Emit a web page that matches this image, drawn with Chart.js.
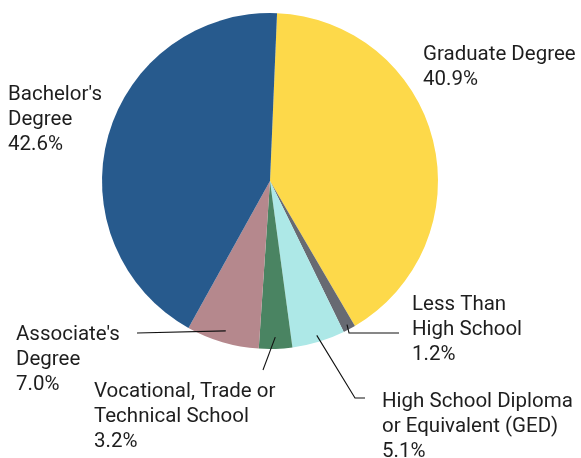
<!DOCTYPE html>
<html><head><meta charset="utf-8">
<script src="https://cdn.jsdelivr.net/npm/chart.js@4"></script>
<style>html,body{margin:0;padding:0;background:#fff}#wrap{width:581px;height:458px}</style>
</head><body><div id="wrap"><canvas id="c" width="581" height="458"></canvas></div>
<script>
const categories = ["Graduate Degree","Less Than High School","High School Diploma or Equivalent (GED)","Vocational, Trade or Technical School","Associate's Degree","Bachelor's Degree"];
const labelLines = [["Graduate Degree"],["Less Than","High School"],["High School Diploma","or Equivalent (GED)"],["Vocational, Trade or","Technical School"],["Associate's","Degree"],["Bachelor's","Degree"]];
const values = [40.9, 1.2, 5.1, 3.2, 7.0, 42.6];
const colors = ["#FDD94A","#676A72","#ADE8E7","#4A8462","#B5888D","#275A8D"];

// label layout: text left x, first line baseline y, leader points (null = no leader)
const labelPos = [
  {x:423, y:60,  leader:null},
  {x:412, y:310, leader:{frac:0.97, pts:[[349,333],[399,333]]}},
  {x:382, y:407, leader:{frac:0.96, pts:[[355,398],[365,398]]}},
  {x:94,  y:397, leader:{frac:0.93, pts:[[263,370]]}},
  {x:16,  y:340, leader:{frac:0.93, pts:[[137,333]]}},
  {x:8,   y:100, leader:null}
];

const labelPlugin = {
  id:'pieLabels',
  afterDraw(chart){
    const ctx = chart.ctx;
    const meta = chart.getDatasetMeta(0);
    ctx.save();
    meta.data.forEach((arc,i)=>{
      const p = arc.getProps(['x','y','startAngle','endAngle','outerRadius'],true);
      const L = labelPos[i];
      if(L.leader){
        const mid = (p.startAngle+p.endAngle)/2;
        const r = p.outerRadius*L.leader.frac;
        ctx.beginPath();
        ctx.strokeStyle = '#111';
        ctx.lineWidth = 1.1;
        ctx.moveTo(p.x+Math.cos(mid)*r, p.y+Math.sin(mid)*r);
        L.leader.pts.forEach(q=>ctx.lineTo(q[0],q[1]));
        ctx.stroke();
      }
      ctx.fillStyle = '#1e1e1e';
      ctx.font = '20.5px Roboto';
      ctx.textBaseline = 'alphabetic';
      ctx.textAlign = 'left';
      const lines = labelLines[i].concat([values[i].toFixed(1)+'%']);
      lines.forEach((t,k)=>ctx.fillText(t, L.x, L.y+k*25));
    });
    ctx.restore();
  }
};

new Chart(document.getElementById('c'),{
  type:'pie',
  data:{labels:categories,datasets:[{data:values,backgroundColor:colors,borderWidth:0,hoverOffset:0}]},
  options:{
    responsive:false,animation:false,events:[],
    rotation:2.4,
    layout:{padding:{left:102,right:143,top:13,bottom:109}},
    plugins:{legend:{display:false},tooltip:{enabled:false},title:{display:false}}
  },
  plugins:[labelPlugin]
});
</script></body></html>
